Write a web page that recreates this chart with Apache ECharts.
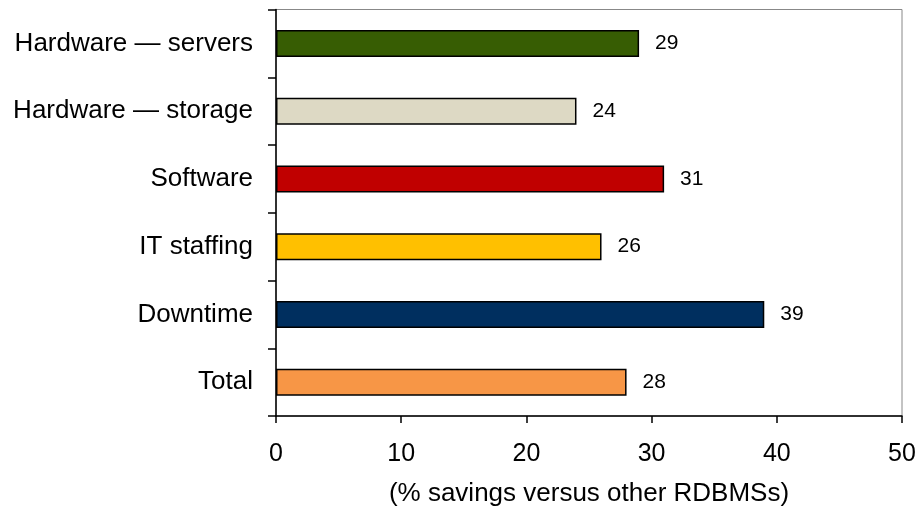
<!DOCTYPE html>
<html><head><meta charset="utf-8">
<script src="https://cdn.jsdelivr.net/npm/echarts@6/dist/echarts.min.js"></script>
<style>html,body{margin:0;padding:0;background:#fff}#c{width:918px;height:506px}</style>
</head><body><div id="c"></div>
<script>
const categories = ["Hardware — servers","Hardware — storage","Software","IT staffing","Downtime","Total"];
const values = [29,24,31,26,39,28];
const colors = ["#375D03","#DDD9C4","#C00000","#FFC000","#002F5F","#F79646"];
const xTicks = [0,10,20,30,40,50];
const xTitle = "(% savings versus other RDBMSs)";

const chart = echarts.init(document.getElementById('c'));
const font = "Liberation Sans, Arial, sans-serif";
chart.setOption({
  animation:false,
  grid:{left:276,right:16,top:9.5,bottom:90,containLabel:false,outerBoundsMode:'none',
    show:true,borderColor:'#888',borderWidth:1},
  xAxis:{type:'value',min:xTicks[0],max:xTicks[xTicks.length-1],interval:10,
    axisLine:{show:true,lineStyle:{color:'#000',width:1.5}},
    axisTick:{show:true,length:7,lineStyle:{color:'#000',width:1.5}},
    splitLine:{show:false},
    axisLabel:{color:'#000',fontSize:25,fontFamily:font,margin:26},
    name:xTitle,nameLocation:'middle',nameGap:65,
    nameTextStyle:{color:'#000',fontSize:26,fontFamily:font}},
  yAxis:{type:'category',data:categories,inverse:true,
    axisLine:{show:true,lineStyle:{color:'#000',width:1.5}},
    axisTick:{show:true,length:8,lineStyle:{color:'#000',width:1.5}},
    axisLabel:{color:'#000',fontSize:26,fontFamily:font,margin:23}},
  series:[{type:'bar',barWidth:27,
    data:values.map((v,i)=>({value:v,itemStyle:{color:colors[i]}})),
    itemStyle:{borderColor:'#000',borderWidth:1.5},
    label:{show:true,position:'right',distance:16,color:'#000',fontSize:21,fontFamily:font}}]
});
</script></body></html>
